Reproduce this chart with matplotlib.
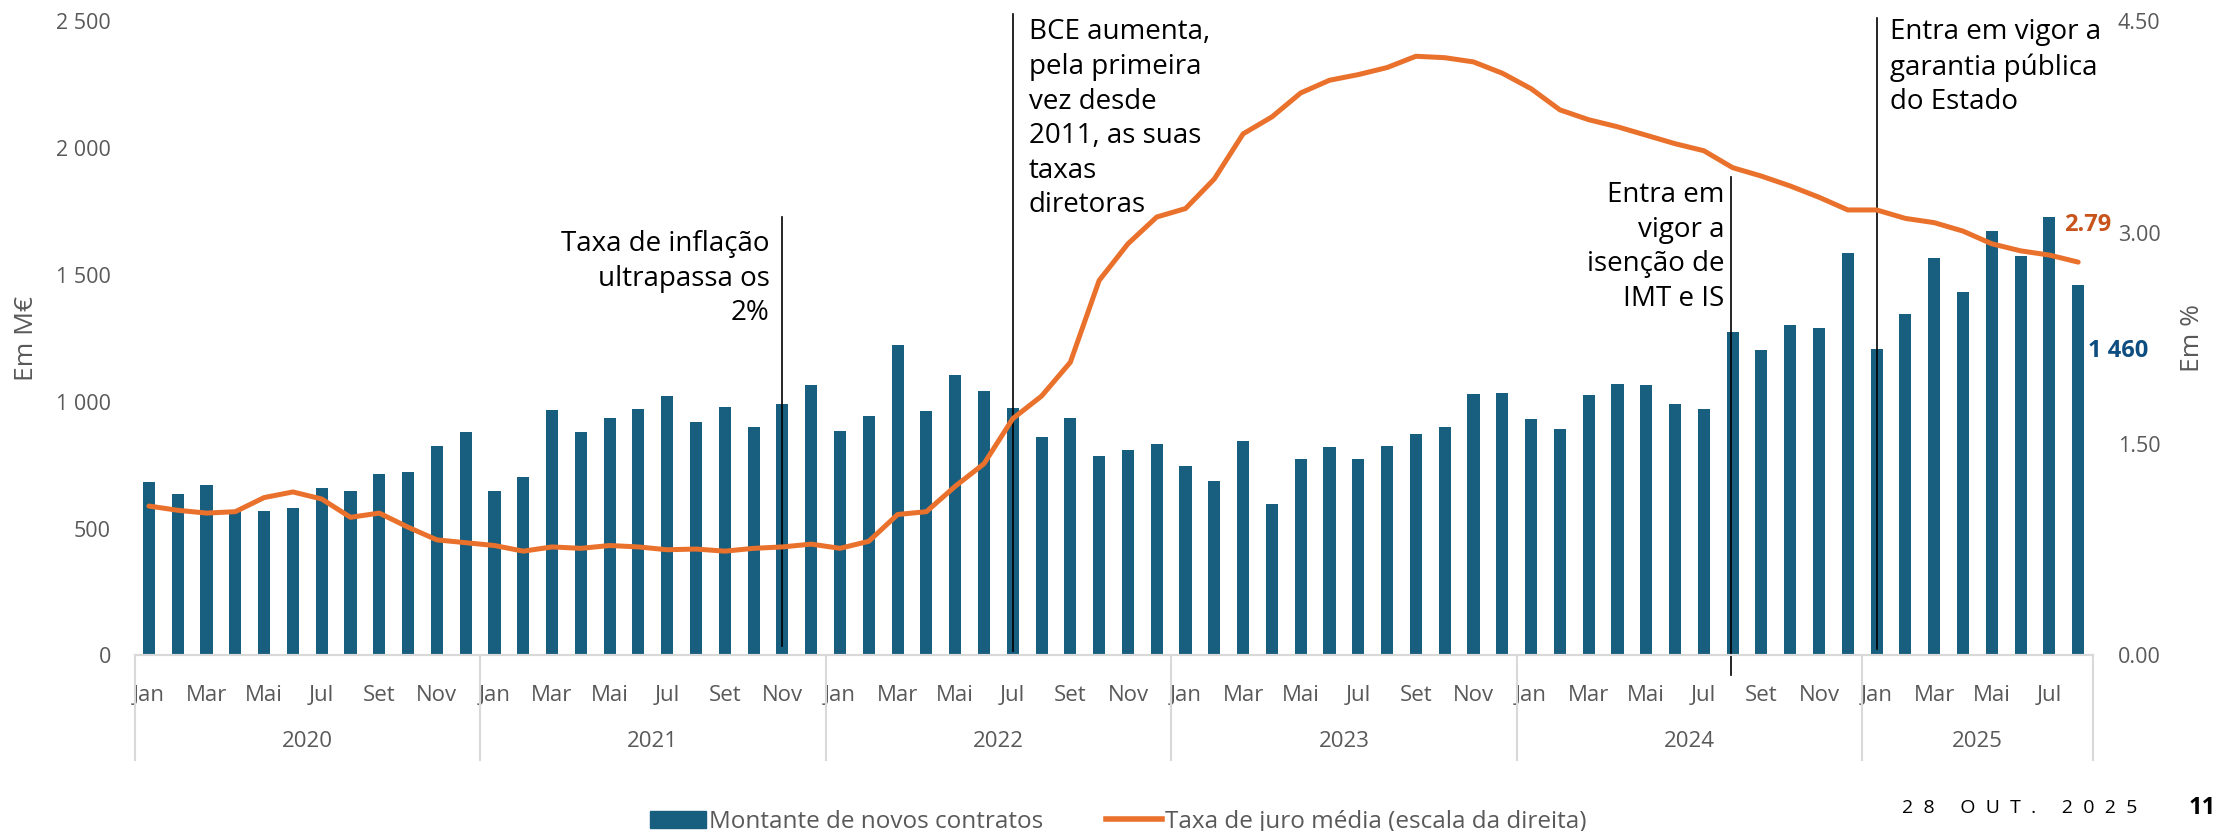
import numpy as np
import matplotlib.pyplot as plt
import matplotlib.transforms as mtransforms
from matplotlib.ticker import FuncFormatter
from matplotlib.patches import Patch
from matplotlib.lines import Line2D

plt.rcParams['font.family'] = ['Open Sans', 'DejaVu Sans']

# Jan 2020 .. Ago 2025
month_names = ['Jan', 'Fev', 'Mar', 'Abr', 'Mai', 'Jun', 'Jul', 'Ago', 'Set', 'Out', 'Nov', 'Dez']
years = ['2020', '2021', '2022', '2023', '2024', '2025']

montante = [
    685, 635, 670, 570, 570, 580, 660, 647, 716, 724, 826, 881,        # 2020
    647, 705, 968, 881, 935, 973, 1021, 920, 979, 902, 991, 1064,      # 2021
    885, 945, 1225, 964, 1104, 1044, 977, 860, 935, 785, 810, 835,     # 2022
    745, 689, 847, 597, 776, 820, 776, 824, 872, 902, 1029, 1035,      # 2023
    931, 893, 1027, 1069, 1064, 989, 973, 1275, 1202, 1302, 1292, 1584,  # 2024
    1208, 1344, 1567, 1432, 1674, 1576, 1726, 1460,                    # 2025
]

taxa = [
    1.06, 1.03, 1.01, 1.02, 1.12, 1.16, 1.11, 0.98, 1.01, 0.91, 0.82, 0.80,
    0.78, 0.74, 0.77, 0.76, 0.78, 0.77, 0.75, 0.755, 0.74, 0.76, 0.77, 0.79,
    0.76, 0.81, 1.00, 1.02, 1.20, 1.36, 1.68, 1.84, 2.08, 2.66, 2.92, 3.11,
    3.17, 3.38, 3.70, 3.82, 3.99, 4.08, 4.12, 4.17, 4.25, 4.24, 4.21, 4.13,
    4.02, 3.87, 3.80, 3.75, 3.69, 3.63, 3.58, 3.46, 3.40, 3.33, 3.25, 3.16,
    3.16, 3.10, 3.07, 3.01, 2.92, 2.87, 2.84, 2.79,
]

n = len(montante)
x = np.arange(n)
month_labels = [month_names[i % 12] if i % 2 == 0 else '' for i in range(n)]

bar_color = '#175e7f'
line_color = '#e9712c'
grey = '#595959'

fig = plt.figure(figsize=(22.2, 8.31), dpi=100)
ax = fig.add_axes([0.0606, 0.2112, 0.882, 0.7635])
ax2 = ax.twinx()

ax.bar(x, montante, width=0.42, color=bar_color, zorder=2)
ax2.plot(x, taxa, color=line_color, lw=3.6, solid_capstyle='round', zorder=3)

ax.set_xlim(-0.5, n - 0.5)
ax.set_ylim(0, 2500)
ax2.set_ylim(0, 4.5)
ax.set_yticks([0, 500, 1000, 1500, 2000, 2500])
ax.yaxis.set_major_formatter(FuncFormatter(lambda v, p: f'{int(v):,}'.replace(',', ' ')))
ax2.set_yticks([0, 1.5, 3.0, 4.5])
ax2.yaxis.set_major_formatter(FuncFormatter(lambda v, p: f'{v:.2f}'))

ax.set_xticks(x)
ax.set_xticklabels(month_labels)

for a in (ax, ax2):
    for s in ['top', 'left', 'right']:
        a.spines[s].set_visible(False)
    a.spines['bottom'].set_color('#d9d9d9')
    a.spines['bottom'].set_linewidth(1.5)
ax.tick_params(axis='y', length=0, pad=17, labelsize=15.5, labelcolor=grey)
ax2.tick_params(axis='y', length=0, pad=18, labelsize=15.5, labelcolor=grey)
ax.tick_params(axis='x', length=0, pad=21, labelsize=16, labelcolor=grey)

ax.set_ylabel('Em M€', fontsize=19, color=grey, labelpad=12)
ax2.set_ylabel('Em %', fontsize=19, color=grey, labelpad=14)

# year groups below the month labels
trans = mtransforms.blended_transform_factory(ax.transData, ax.transAxes)
for b in [-0.5, 11.5, 23.5, 35.5, 47.5, 59.5, n - 0.5]:
    ax.plot([b, b], [0, -0.165], transform=trans, color='#d9d9d9', lw=1.5, clip_on=False)
for i, yr in enumerate(years):
    start = i * 12 - 0.5
    end = min((i + 1) * 12, n) - 0.5
    ax.text((start + end) / 2, -0.136, yr, transform=trans, ha='center', va='center',
            fontsize=16, color=grey)

# event markers
events = [
    (22, 1728, 37, 21.55, 1675, 'right', 'Taxa de inflação\nultrapassa os\n2%'),
    (30, 2527, 18, 30.55, 2510, 'left', 'BCE aumenta,\npela primeira\nvez desde\n2011, as suas\ntaxas\ndiretoras'),
    (54.93, 1884, -75, 54.72, 1868, 'right', 'Entra em\nvigor a\nisenção de\nIMT e IS'),
    (60, 2513, 26, 60.45, 2510, 'left', 'Entra em vigor a\ngarantia pública\ndo Estado'),
]
for lx, ytop, ybot, tx, ty, ha, txt in events:
    ax.plot([lx, lx], [ybot, ytop], color='black', lw=1.2, clip_on=False, zorder=4)
    ax.text(tx, ty, txt, ha=ha, va='top', fontsize=20, color='black',
            linespacing=1.31, multialignment=ha, zorder=5)

# last values
ax2.text(66.5, taxa[-1] + 0.26, f'{taxa[-1]:.2f}', ha='left', va='center',
         fontsize=17, fontweight='bold', color='#c8541c')
ax.text(67.35, 1200, f'{montante[-1]:,}'.replace(',', ' '), ha='left', va='center',
        fontsize=17, fontweight='bold', color='#0e4d80')

handles = [Patch(color=bar_color), Line2D([0], [0], color=line_color, lw=4)]
fig.legend(handles, ['Montante de novos contratos', 'Taxa de juro média (escala da direita)'],
           loc='center left', bbox_to_anchor=(0.293, 1 - 822 / 831), ncol=2, frameon=False,
           fontsize=17.5, labelcolor=grey, handlelength=2.3, handleheight=0.7,
           handletextpad=0.1, columnspacing=2.6, borderaxespad=0, borderpad=0)

fig.text(1902 / 2220, 1 - 808 / 831, '2  8     O  U  T  .     2  0  2  5', fontsize=14,
         ha='left', va='center', color='black')
fig.text(2189 / 2220, 1 - 808 / 831, '11', fontsize=17, fontweight='bold',
         ha='left', va='center', color='black')

fig.savefig('out.png', dpi=100)
